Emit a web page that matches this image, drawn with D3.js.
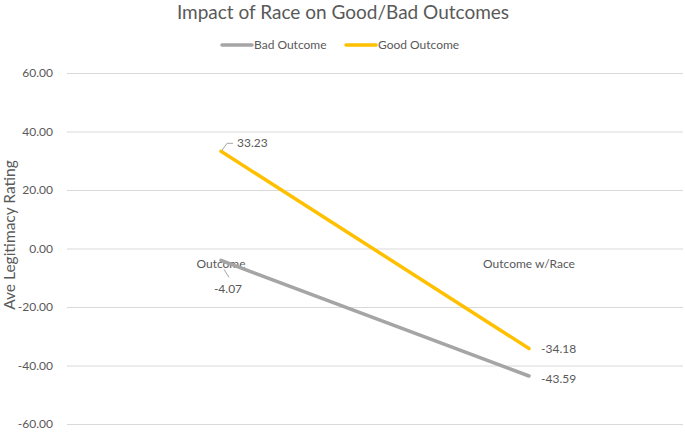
<!DOCTYPE html>
<html><head><meta charset="utf-8">
<script src="https://cdn.jsdelivr.net/npm/d3@7"></script>
<style>body{margin:0;background:#fff}svg{display:block}text{font-family:Lato,"Liberation Sans",sans-serif;fill:#595959}</style>
</head><body><svg id="c" width="685" height="433"></svg>
<script>
const categories = ["Outcome", "Outcome w/Race"];
const badOutcome = [-4.07, -43.59];
const goodOutcome = [33.23, -34.18];
const yTicks = [60, 40, 20, 0, -20, -40, -60];
const seriesNames = ["Bad Outcome", "Good Outcome"];
const colors = ["#A5A5A5", "#FFC000"];

const locale = d3.formatLocale({decimal: ".", thousands: ",", grouping: [3], currency: ["$", ""], minus: "-"});
const fmt = locale.format(".2f");

const svg = d3.select("#c");
const m = {l: 67, r: 2, t: 73, b: 9};
const W = 685, H = 433;
const x = d3.scaleBand().domain(categories).range([m.l, W - m.r]);
const y = d3.scaleLinear().domain([-60, 60]).range([H - m.b, m.t]);

// title
svg.append("text").attr("x", 343).attr("y", 19).attr("text-anchor", "middle")
  .style("font-size", "19px").text("Impact of Race on Good/Bad Outcomes");

// gridlines
const yAxis = d3.axisLeft(y).tickValues(yTicks).tickSize(-(W - m.r - m.l)).tickFormat(fmt).tickPadding(14);
const ga = svg.append("g").attr("transform", `translate(${m.l},0)`).call(yAxis);
ga.select(".domain").remove();
ga.selectAll("line").attr("stroke", "#D9D9D9");
ga.selectAll("text").style("font-size", "12px").style("fill", "#595959");

// axis title
svg.append("text").attr("transform", "translate(15,235) rotate(-90)").attr("text-anchor", "middle")
  .style("font-size", "15.5px").text("Ave Legitimacy Rating");

// category labels (at zero line)
const xAxis = d3.axisBottom(x).tickSize(0).tickPadding(11);
const gx = svg.append("g").attr("transform", `translate(0,${y(0)})`).call(xAxis);
gx.select(".domain").remove();
gx.selectAll("text").style("font-size", "12px").style("fill", "#595959");

// lines
const cx = c => x(c) + x.bandwidth() / 2;
const series = [badOutcome, goodOutcome];
const line = d3.line().x((d, i) => cx(categories[i])).y(d => y(d));
series.forEach((s, k) => {
  svg.append("path").datum(s).attr("d", line).attr("fill", "none")
    .attr("stroke", colors[k]).attr("stroke-width", 3.5).attr("stroke-linecap", "round");
});

// data labels
const gx0 = cx(categories[0]), gy0 = y(goodOutcome[0]);
svg.append("path").attr("d", `M${gx0+1},${gy0-1} L${gx0+6},${gy0-8} L${gx0+12},${gy0-8}`)
  .attr("fill", "none").attr("stroke", "#A5A5A5").attr("stroke-width", 1);
svg.append("text").attr("x", gx0 + 16).attr("y", gy0 - 4).style("font-size", "12px").text(fmt(goodOutcome[0]));
const bx0 = cx(categories[0]), by0 = y(badOutcome[0]);
svg.append("path").attr("d", `M${bx0+3},${by0+9} L${bx0+8},${by0+17}`)
  .attr("fill", "none").attr("stroke", "#A5A5A5").attr("stroke-width", 1);
svg.append("text").attr("x", bx0 + 7).attr("y", by0 + 33).attr("text-anchor", "middle").style("font-size", "12px").text(fmt(badOutcome[0]));
const rx = cx(categories[1]);
svg.append("text").attr("x", rx + 12).attr("y", y(goodOutcome[1]) + 5).style("font-size", "12px").text(fmt(goodOutcome[1]));
svg.append("text").attr("x", rx + 12).attr("y", y(badOutcome[1]) + 7).style("font-size", "12px").text(fmt(badOutcome[1]));

// legend
const leg = [{x: 222, tx: 254}, {x: 346, tx: 378}];
seriesNames.forEach((n, k) => {
  svg.append("line").attr("x1", leg[k].x).attr("x2", leg[k].x + 30).attr("y1", 45).attr("y2", 45)
    .attr("stroke", colors[k]).attr("stroke-width", 3.5).attr("stroke-linecap", "round");
  svg.append("text").attr("x", leg[k].tx).attr("y", 49).style("font-size", "12px").text(n);
});
</script></body></html>
